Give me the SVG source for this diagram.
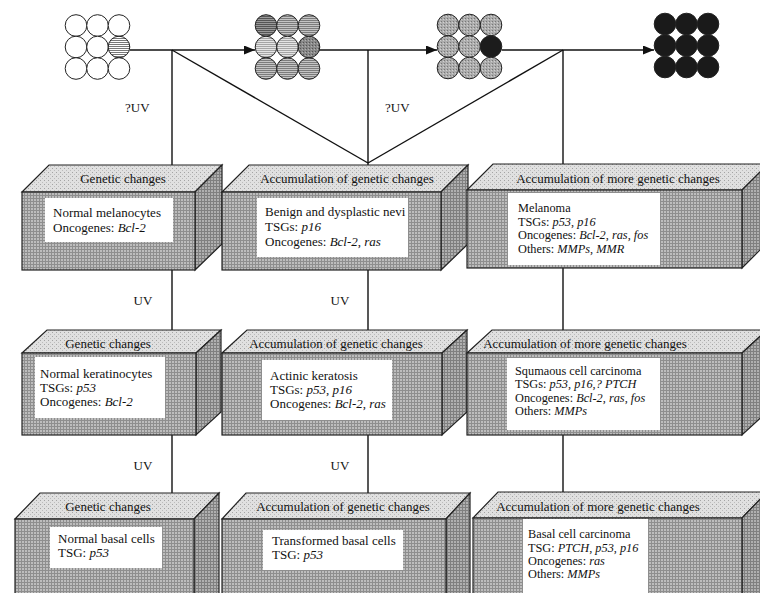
<svg xmlns="http://www.w3.org/2000/svg" width="760" height="593" viewBox="0 0 760 593">
<defs>
  <pattern id="front" width="3" height="3" patternUnits="userSpaceOnUse">
    <rect width="3" height="3" fill="#bdbdbd"/>
    <path d="M0 0.5H3M0.5 0V3" stroke="#8e8e8e" stroke-width="1"/>
  </pattern>
  <pattern id="side" width="3" height="3" patternUnits="userSpaceOnUse">
    <rect width="3" height="3" fill="#b0b0b0"/>
    <path d="M0 0.5H3M0.5 0V3" stroke="#808080" stroke-width="1"/>
  </pattern>
  <pattern id="top" width="4" height="4" patternUnits="userSpaceOnUse">
    <rect width="4" height="4" fill="#e0e0e0"/>
    <rect x="0" y="0" width="1" height="1" fill="#a4a4a4"/>
    <rect x="2" y="2" width="1" height="1" fill="#bcbcbc"/>
  </pattern>
  <pattern id="stripe" width="4" height="2" patternUnits="userSpaceOnUse">
    <rect width="4" height="2" fill="#ffffff"/>
    <path d="M0 0.5H4" stroke="#555" stroke-width="0.8"/>
  </pattern>
  <pattern id="gstripe" width="4" height="2" patternUnits="userSpaceOnUse">
    <rect width="4" height="2" fill="#c4c4c4"/>
    <path d="M0 0.5H4" stroke="#6a6a6a" stroke-width="0.8"/>
  </pattern>
  <pattern id="lstripe" width="4" height="2" patternUnits="userSpaceOnUse">
    <rect width="4" height="2" fill="#e4e4e4"/>
    <path d="M0 0.5H4" stroke="#8a8a8a" stroke-width="0.7"/>
  </pattern>
  <pattern id="dstripe" width="4" height="2" patternUnits="userSpaceOnUse">
    <rect width="4" height="2" fill="#999"/>
    <path d="M0 0.5H4" stroke="#444" stroke-width="0.8"/>
  </pattern>
  <pattern id="stipple" width="3" height="3" patternUnits="userSpaceOnUse">
    <rect width="3" height="3" fill="#acacac"/>
    <rect x="0" y="0" width="1" height="1" fill="#777"/>
    <rect x="2" y="1" width="1" height="1" fill="#d0d0d0"/>
  </pattern>
  <pattern id="dstipple" width="3" height="3" patternUnits="userSpaceOnUse">
    <rect width="3" height="3" fill="#888"/>
    <rect x="0" y="0" width="1" height="1" fill="#555"/>
    <rect x="2" y="1" width="1" height="1" fill="#b0b0b0"/>
  </pattern>
  <marker id="arr" markerWidth="11" markerHeight="9" refX="11" refY="4.5" orient="auto" markerUnits="userSpaceOnUse">
    <path d="M0 0L11 4.5L0 9Z" fill="#111"/>
  </marker>
</defs>
<style>
  text { font-family: "Liberation Serif", "Times New Roman", serif; fill: #111; }
  .lbl { font-size: 13px; text-anchor: middle; }
  .body { font-size: 13px; }
  .sm { font-size: 12.3px; }
  .it { font-style: italic; }
  .c { stroke: #222; stroke-width: 1; }
  .fr { fill: url(#front); stroke: #222; stroke-width: 1.2; }
  .sd { fill: url(#side); stroke: #222; stroke-width: 1.2; }
  .tp { fill: url(#top); stroke: #222; stroke-width: 1.2; }
  .wb { fill: #ffffff; }
  .ln { stroke: #111; stroke-width: 1.4; fill: none; }
</style>
<rect width="760" height="593" fill="#ffffff"/>

<g id="connectors">
  <line class="ln" x1="130" y1="50" x2="255" y2="50" marker-end="url(#arr)"/>
  <line class="ln" x1="319" y1="50" x2="437" y2="50" marker-end="url(#arr)"/>
  <line class="ln" x1="502" y1="50" x2="654" y2="50" marker-end="url(#arr)"/>
  <line class="ln" x1="172" y1="50" x2="172" y2="166"/>
  <line class="ln" x1="172" y1="50" x2="368" y2="163"/>
  <line class="ln" x1="368" y1="50" x2="368" y2="166"/>
  <line class="ln" x1="563" y1="50" x2="368" y2="163"/>
  <line class="ln" x1="563" y1="50" x2="563" y2="165"/>
  <line class="ln" x1="172" y1="270" x2="172" y2="330"/>
  <line class="ln" x1="368" y1="270" x2="368" y2="330"/>
  <line class="ln" x1="563" y1="268" x2="563" y2="330"/>
  <line class="ln" x1="172" y1="435" x2="172" y2="493"/>
  <line class="ln" x1="368" y1="435" x2="368" y2="493"/>
  <line class="ln" x1="563" y1="435" x2="563" y2="492"/>
  <text x="125" y="112" class="body">?UV</text>
  <text x="385" y="112" class="body">?UV</text>
  <text x="143" y="305" class="body" text-anchor="middle">UV</text>
  <text x="340" y="305" class="body" text-anchor="middle">UV</text>
  <text x="143" y="470" class="body" text-anchor="middle">UV</text>
  <text x="340" y="470" class="body" text-anchor="middle">UV</text>
</g>

<g id="cells1">
  <circle class="c" cx="76" cy="25.5" r="10.8" fill="#fff"/>
  <circle class="c" cx="97.5" cy="25.5" r="10.8" fill="#fff"/>
  <circle class="c" cx="119" cy="25.5" r="10.8" fill="#fff"/>
  <circle class="c" cx="76" cy="47" r="10.8" fill="#fff"/>
  <circle class="c" cx="97.5" cy="47" r="10.8" fill="#fff"/>
  <circle class="c" cx="119" cy="47" r="10.8" fill="url(#stripe)"/>
  <circle class="c" cx="76" cy="68.5" r="10.8" fill="#fff"/>
  <circle class="c" cx="97.5" cy="68.5" r="10.8" fill="#fff"/>
  <circle class="c" cx="119" cy="68.5" r="10.8" fill="#fff"/>
</g>
<g id="cells2">
  <circle class="c" cx="266" cy="25.5" r="10.8" fill="url(#dstripe)"/>
  <circle class="c" cx="287.5" cy="25.5" r="10.8" fill="url(#gstripe)"/>
  <circle class="c" cx="309" cy="25.5" r="10.8" fill="url(#gstripe)"/>
  <circle class="c" cx="266" cy="47" r="10.8" fill="url(#lstripe)"/>
  <circle class="c" cx="287.5" cy="47" r="10.8" fill="url(#lstripe)"/>
  <circle class="c" cx="309" cy="47" r="10.8" fill="url(#dstipple)"/>
  <circle class="c" cx="266" cy="68.5" r="10.8" fill="url(#gstripe)"/>
  <circle class="c" cx="287.5" cy="68.5" r="10.8" fill="url(#gstripe)"/>
  <circle class="c" cx="309" cy="68.5" r="10.8" fill="url(#gstripe)"/>
</g>
<g id="cells3">
  <circle class="c" cx="448" cy="25" r="10.8" fill="url(#stipple)"/>
  <circle class="c" cx="469.5" cy="25" r="10.8" fill="url(#stipple)"/>
  <circle class="c" cx="491" cy="25" r="10.8" fill="url(#stipple)"/>
  <circle class="c" cx="448" cy="46.5" r="10.8" fill="url(#stipple)"/>
  <circle class="c" cx="469.5" cy="46.5" r="10.8" fill="url(#stipple)"/>
  <circle class="c" cx="491" cy="46.5" r="10.8" fill="#1c1c1c"/>
  <circle class="c" cx="448" cy="68" r="10.8" fill="url(#stipple)"/>
  <circle class="c" cx="469.5" cy="68" r="10.8" fill="url(#stipple)"/>
  <circle class="c" cx="491" cy="68" r="10.8" fill="url(#stipple)"/>
</g>
<g id="cells4" fill="#1a1a1a">
  <circle class="c" cx="665" cy="24" r="10.8"/>
  <circle class="c" cx="686.5" cy="24" r="10.8"/>
  <circle class="c" cx="708" cy="24" r="10.8"/>
  <circle class="c" cx="665" cy="45.5" r="10.8"/>
  <circle class="c" cx="686.5" cy="45.5" r="10.8"/>
  <circle class="c" cx="708" cy="45.5" r="10.8"/>
  <circle class="c" cx="665" cy="67" r="10.8"/>
  <circle class="c" cx="686.5" cy="67" r="10.8"/>
  <circle class="c" cx="708" cy="67" r="10.8"/>
</g>

<!-- Row 1 -->
<g id="box-melanocytes">
  <polygon class="tp" points="22,192 49,165 222,165 195,192"/>
  <polygon class="sd" points="195,192 222,165 222,244 195,270"/>
  <rect class="fr" x="22" y="192" width="173" height="78"/>
  <rect class="wb" x="45" y="198" width="128" height="44"/>
  <text x="123" y="183" class="lbl">Genetic changes</text>
  <text x="53" y="217" class="body">Normal melanocytes</text>
  <text x="53" y="232" class="body">Oncogenes: <tspan class="it">Bcl-2</tspan></text>
</g>
<g id="box-nevi">
  <polygon class="tp" points="222,192 249,165 468,165 441,192"/>
  <polygon class="sd" points="441,192 468,165 468,244 441,270"/>
  <rect class="fr" x="222" y="192" width="219" height="78"/>
  <rect class="wb" x="257" y="198" width="151" height="59"/>
  <text x="347" y="183" class="lbl">Accumulation of genetic changes</text>
  <text x="265" y="216" class="body">Benign and dysplastic nevi</text>
  <text x="265" y="231" class="body">TSGs: <tspan class="it">p16</tspan></text>
  <text x="265" y="246" class="body">Oncogenes: <tspan class="it">Bcl-2</tspan>, <tspan class="it">ras</tspan></text>
</g>
<g id="box-melanoma">
  <polygon class="tp" points="467,190 493,164 768,164 742,190"/>
  <polygon class="sd" points="742,190 768,164 768,242 742,268"/>
  <rect class="fr" x="467" y="190" width="275" height="78"/>
  <rect class="wb" x="508" y="193" width="152" height="72"/>
  <text x="618" y="183" class="lbl">Accumulation of more genetic changes</text>
  <text x="518" y="212" class="sm">Melanoma</text>
  <text x="518" y="226" class="sm">TSGs: <tspan class="it">p53</tspan>, <tspan class="it">p16</tspan></text>
  <text x="518" y="239" class="sm">Oncogenes: <tspan class="it">Bcl-2</tspan>, <tspan class="it">ras</tspan>, <tspan class="it">fos</tspan></text>
  <text x="518" y="253" class="sm">Others: <tspan class="it">MMPs</tspan>, <tspan class="it">MMR</tspan></text>
</g>

<!-- Row 2 -->
<g id="box-keratinocytes">
  <polygon class="tp" points="22,353 47,330 221,330 196,353"/>
  <polygon class="sd" points="196,353 221,330 221,412 196,435"/>
  <rect class="fr" x="22" y="353" width="174" height="82"/>
  <rect class="wb" x="35" y="357" width="130" height="61"/>
  <text x="108" y="348" class="lbl">Genetic changes</text>
  <text x="40" y="378" class="body">Normal keratinocytes</text>
  <text x="40" y="392" class="body">TSGs: <tspan class="it">p53</tspan></text>
  <text x="40" y="406" class="body">Oncogenes: <tspan class="it">Bcl-2</tspan></text>
</g>
<g id="box-actinic">
  <polygon class="tp" points="222,353 247,330 467,330 442,353"/>
  <polygon class="sd" points="442,353 467,330 467,412 442,435"/>
  <rect class="fr" x="222" y="353" width="220" height="82"/>
  <rect class="wb" x="262" y="360" width="130" height="60"/>
  <text x="336" y="348" class="lbl">Accumulation of genetic changes</text>
  <text x="270" y="380" class="body">Actinic keratosis</text>
  <text x="270" y="394" class="body">TSGs: <tspan class="it">p53</tspan>, <tspan class="it">p16</tspan></text>
  <text x="270" y="408" class="body">Oncogenes: <tspan class="it">Bcl-2</tspan>, <tspan class="it">ras</tspan></text>
</g>
<g id="box-squamous">
  <polygon class="tp" points="467,353 492,330 767,330 742,353"/>
  <polygon class="sd" points="742,353 767,330 767,412 742,435"/>
  <rect class="fr" x="467" y="353" width="275" height="82"/>
  <rect class="wb" x="507" y="358" width="153" height="72"/>
  <text x="585" y="348" class="lbl">Accumulation of more genetic changes</text>
  <text x="515" y="375" class="sm">Squmaous cell carcinoma</text>
  <text x="515" y="388" class="sm">TSGs: <tspan class="it">p53</tspan>, <tspan class="it">p16</tspan>,<tspan class="it">? PTCH</tspan></text>
  <text x="515" y="402" class="sm">Oncogenes: <tspan class="it">Bcl-2</tspan>, <tspan class="it">ras</tspan>, <tspan class="it">fos</tspan></text>
  <text x="515" y="415" class="sm">Others: <tspan class="it">MMPs</tspan></text>
</g>

<!-- Row 3 -->
<g id="box-basal">
  <polygon class="tp" points="15,519 40,493 219,493 194,519"/>
  <polygon class="sd" points="194,519 219,493 219,600 194,600"/>
  <rect class="fr" x="15" y="519" width="179" height="82"/>
  <rect class="wb" x="50" y="527" width="112" height="41"/>
  <text x="108" y="511" class="lbl">Genetic changes</text>
  <text x="58" y="543" class="body">Normal basal cells</text>
  <text x="58" y="557" class="body">TSG:  <tspan class="it">p53</tspan></text>
</g>
<g id="box-transformed">
  <polygon class="tp" points="222,519 246,493 470,493 446,519"/>
  <polygon class="sd" points="446,519 470,493 470,600 446,600"/>
  <rect class="fr" x="222" y="519" width="224" height="82"/>
  <rect class="wb" x="263" y="530" width="140" height="40"/>
  <text x="343" y="511" class="lbl">Accumulation of genetic changes</text>
  <text x="272" y="545" class="body">Transformed basal cells</text>
  <text x="272" y="559" class="body">TSG:  <tspan class="it">p53</tspan></text>
</g>
<g id="box-bcc">
  <polygon class="tp" points="473,518 498,492 767,492 742,518"/>
  <polygon class="sd" points="742,518 767,492 767,600 742,600"/>
  <rect class="fr" x="473" y="518" width="269" height="82"/>
  <rect class="wb" x="523" y="519" width="125" height="80"/>
  <text x="598" y="511" class="lbl">Accumulation of more genetic changes</text>
  <text x="528" y="538" class="sm">Basal cell carcinoma</text>
  <text x="528" y="552" class="sm">TSG: <tspan class="it">PTCH</tspan>,  <tspan class="it">p53</tspan>, <tspan class="it">p16</tspan></text>
  <text x="528" y="565" class="sm">Oncogenes: <tspan class="it">ras</tspan></text>
  <text x="528" y="578" class="sm">Others: <tspan class="it">MMPs</tspan></text>
</g>
</svg>
